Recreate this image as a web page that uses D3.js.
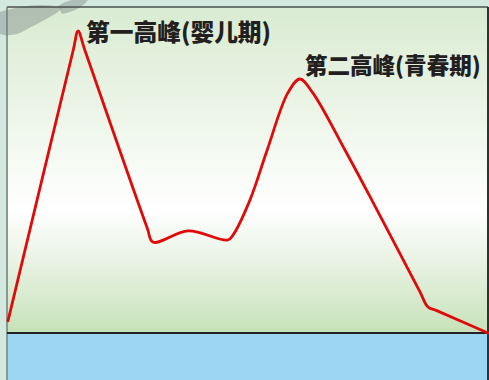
<!DOCTYPE html>
<html><head><meta charset="utf-8">
<script src="https://cdn.jsdelivr.net/npm/d3@7"></script>
<style>html,body{margin:0;padding:0;background:#d3e8df;}svg{display:block;}</style>
</head><body>
<svg id="c" width="489" height="380"></svg>
<script>
// data (age axis 0-100, growth-rate axis 0-100)
const ages  = [0, 13.6, 14.6, 16.0, 29.0, 30.2, 37.5, 45.8, 46.9, 50.4, 54.0, 58.3, 60.8, 63.5, 70.2, 75.8, 85.8, 87.5, 89.2, 100];
const rates = [4.0, 93.7, 100, 93.7, 34.8, 30.1, 33.8, 30.8, 32.5, 44.0, 60.6, 79.5, 84.1, 79.5, 60.6, 44.0, 13.7, 8.6, 7.5, 0];
const peakLabels = ["第一高峰(婴儿期)", "第二高峰(青春期)"];
const peakAt = [2, 12];

(function () {
const svg = d3.select("#c");
const W = 489, H = 380;
const mLeft = 8, mRight = 488, mTop = 7, base = 333;

const x = d3.scaleLinear().domain([0, 100]).range([mLeft, mRight]);
const y = d3.scaleLinear().domain([0, 100]).range([base, 31]);

const defs = svg.append("defs");
const g = defs.append("linearGradient").attr("id", "bg").attr("x1", 0).attr("x2", 0).attr("y1", 0).attr("y2", 1);
g.append("stop").attr("offset", "0%").attr("stop-color", "#d9ebd2");
g.append("stop").attr("offset", "35%").attr("stop-color", "#eef6ea");
g.append("stop").attr("offset", "62%").attr("stop-color", "#ffffff");
g.append("stop").attr("offset", "80%").attr("stop-color", "#e6f1e0");
g.append("stop").attr("offset", "100%").attr("stop-color", "#c6e2b9");

svg.append("rect").attr("width", W).attr("height", H).attr("fill", "#d3e8df");
svg.append("rect").attr("x", mLeft).attr("y", mTop).attr("width", mRight - mLeft).attr("height", base - mTop).attr("fill", "url(#bg)");
svg.append("rect").attr("x", mLeft).attr("y", base).attr("width", mRight - mLeft).attr("height", H - base).attr("fill", "#9dd6f2");

// watermark swoosh
svg.append("path")
  .attr("d", "M0,12 C20,6 45,2 62,8 C58,14 40,22 22,32 C14,36 6,36 0,34 Z")
  .attr("fill", "#8f9a98").attr("opacity", 0.55);
svg.append("path")
  .attr("d", "M58,6 C66,0 78,-2 88,0 C84,6 74,12 62,14 Z")
  .attr("fill", "#8f9a98").attr("opacity", 0.55);

// frame
svg.append("line").attr("x1", mLeft - 1).attr("x2", mRight).attr("y1", mTop).attr("y2", mTop).attr("stroke", "#4a4f4c").attr("stroke-width", 1.5);
svg.append("line").attr("x1", mLeft - 1).attr("x2", mLeft - 1).attr("y1", mTop).attr("y2", H).attr("stroke", "#6f7f7b").attr("stroke-width", 1.5);
svg.append("line").attr("x1", mRight).attr("x2", mRight).attr("y1", mTop).attr("y2", H).attr("stroke", "#2f3330").attr("stroke-width", 2);
svg.append("line").attr("x1", mLeft - 1).attr("x2", mRight).attr("y1", base).attr("y2", base).attr("stroke", "#222").attr("stroke-width", 2);

const data = ages.map((a, i) => ({a, r: rates[i]}));
const line = d3.line().x(d => x(d.a)).y(d => y(d.r)).curve(d3.curveCatmullRom.alpha(0.5));
svg.append("path").datum(data).attr("d", line)
  .attr("fill", "none").attr("stroke", "#e10a0a").attr("stroke-width", 2.8)
  .attr("stroke-linejoin", "round").attr("stroke-linecap", "round");

const offs = [[8, 10], [5, -5]];
const sizes = [24, 23];
const lens = [185, 176];
peakLabels.forEach((t, i) => {
  const d = data[peakAt[i]];
  svg.append("text").attr("x", x(d.a) + offs[i][0]).attr("y", y(d.r) + offs[i][1])
    .attr("font-family", "'Noto Sans CJK SC', sans-serif").attr("font-weight", 900)
    .attr("font-size", sizes[i]).attr("fill", "#231f20")
    .attr("textLength", lens[i]).attr("lengthAdjust", "spacingAndGlyphs").text(t);
});
})();
</script>
</body></html>
